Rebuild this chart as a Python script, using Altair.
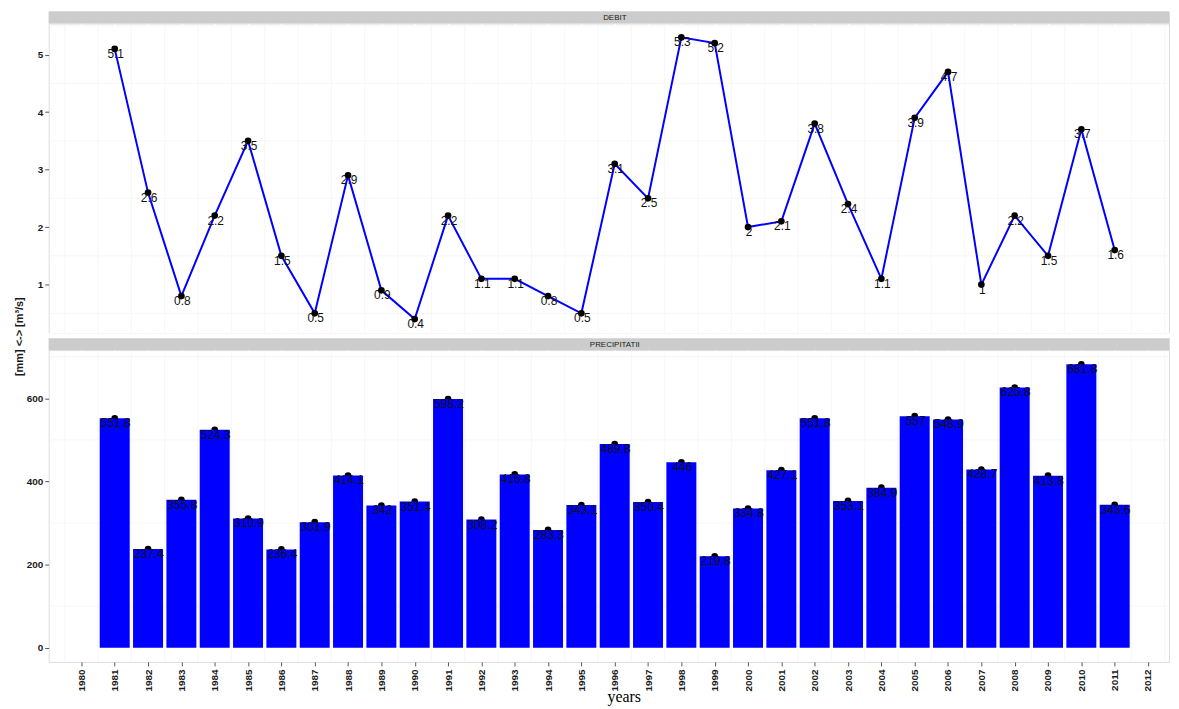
import altair as alt
import pandas as pd

years = list(range(1981, 2012))
debit = [5.1, 2.6, 0.8, 2.2, 3.5, 1.5, 0.5, 2.9, 0.9, 0.4, 2.2, 1.1, 1.1, 0.8, 0.5,
         3.1, 2.5, 5.3, 5.2, 2.0, 2.1, 3.8, 2.4, 1.1, 3.9, 4.7, 1.0, 2.2, 1.5, 3.7, 1.6]
precip = [551.8, 237.4, 355.8, 524.3, 310.9, 236.4, 301.9, 414.1, 342, 351.4, 598.2,
          308.2, 416.8, 283.3, 343.1, 489.8, 350.4, 446, 219.8, 334.8, 427.1, 551.8,
          353.1, 384.9, 557, 548.9, 428.7, 625.8, 413.8, 681.8, 343.6]
x_ticks = list(range(1980, 2013))
x_minor = [y + 0.5 for y in range(1979, 2013)]
debit_ticks = [1, 2, 3, 4, 5]
debit_minor = [0.5, 1.5, 2.5, 3.5, 4.5, 5.5]
precip_ticks = [0, 200, 400, 600]
precip_minor = [100, 300, 500, 700]

W = 1128
H_TOP = 312
H_BOT = 314
STRIP_H = 12
GAP = 5
FONT = "Liberation Sans"
BAR_HALF = 0.45

def fmt(v):
    return f"{v:g}"

df_top = pd.DataFrame({"year": years, "value": debit, "label": [fmt(v) for v in debit]})
df_bot = pd.DataFrame({"year": years, "value": precip, "label": [fmt(v) for v in precip],
                       "x0": [y - BAR_HALF for y in years], "x1": [y + BAR_HALF for y in years]})

xscale = alt.Scale(domain=[1979.02, 2012.63], nice=False, zero=False)

def x_axis(show):
    if show:
        return alt.Axis(values=x_ticks, grid=True, gridColor="white", gridWidth=1.2,
                        labelAngle=270, labelFont=FONT, labelFontWeight="bold", labelFontSize=10,
                        labelColor="#1A1A1A", labelPadding=3, tickColor="#555555", tickSize=4,
                        domain=False, title="years", titleFont="Liberation Serif",
                        titleFontSize=16, titleFontWeight="normal", titleColor="black",
                        titleX=579, titleY=40, titleBaseline="alphabetic", format="d")
    return alt.Axis(values=x_ticks, grid=True, gridColor="white", gridWidth=1.2,
                    labels=False, ticks=False, domain=False, title=None)

def y_axis(values, title=None):
    kw = dict(values=values, grid=True, gridColor="white", gridWidth=1.2,
              labelFont=FONT, labelFontWeight="bold", labelFontSize=10, labelColor="#1A1A1A",
              labelPadding=2, tickColor="#555555", tickSize=4, domain=False)
    if title:
        kw.update(title=title, titleFont=FONT, titleFontSize=11, titleFontWeight="bold",
                  titleColor="#1A1A1A", titleAngle=270, titleY=-14, titlePadding=2)
    else:
        kw.update(title=None)
    return alt.Axis(**kw)


def strip(label, gap=0):
    d = pd.DataFrame({"label": [label]})
    layers = []
    if gap:
        layers.append(alt.Chart(d).mark_rect(color="white").encode(
            x=alt.value(-1), x2=alt.value(W + 1), y=alt.value(0), y2=alt.value(gap)))
    layers.append(alt.Chart(d).mark_rect(color="#CCCCCC").encode(
        x=alt.value(0), x2=alt.value(W), y=alt.value(gap), y2=alt.value(gap + STRIP_H)))
    layers.append(alt.Chart(d).mark_text(font=FONT, fontSize=8, color="#1A1A1A", baseline="middle").encode(
        text="label:N", x=alt.value(570), y=alt.value(gap + STRIP_H / 2 + 0.5)))
    return alt.layer(*layers).properties(width=W, height=STRIP_H + gap)


def panel(df, yvals, yminor, ydomain, show_x, height, title=None, bars=False):
    yscale = alt.Scale(domain=ydomain, nice=False, zero=False)
    xa = x_axis(show_x)
    ya = y_axis(yvals, title)
    vmin = alt.Chart(pd.DataFrame({"pos": x_minor})).mark_rule(color="#F2F2F2", strokeWidth=0.6).encode(
        x=alt.X("pos:Q", scale=xscale, axis=xa))
    hmin = alt.Chart(pd.DataFrame({"pos": yminor})).mark_rule(color="#F2F2F2", strokeWidth=0.6).encode(
        y=alt.Y("pos:Q", scale=yscale, axis=ya))
    base = alt.Chart(df)
    xe = alt.X("year:Q", scale=xscale, axis=xa)
    ye = alt.Y("value:Q", scale=yscale, axis=ya)
    pts = base.mark_circle(color="black", opacity=1, size=45).encode(x=xe, y=ye)
    txt = base.mark_text(font=FONT, fontSize=12, color="#111111", dx=1, dy=5, baseline="middle").encode(
        x=xe, y=ye, text="label:N")
    if bars:
        br = base.mark_rect(color="#0000FF").encode(
            x=alt.X("x0:Q", scale=xscale, axis=xa), x2="x1:Q", y=ye, y2=alt.datum(0))
        layers = [vmin, hmin, pts, br, txt]
    else:
        ln = base.mark_line(color="#0000FF", strokeWidth=2).encode(x=xe, y=ye)
        layers = [vmin, hmin, ln, pts, txt]
    return alt.layer(*layers).properties(width=W, height=height)


top = panel(df_top, debit_ticks, debit_minor, [0.155, 5.545], False, H_TOP)
bot = panel(df_bot, precip_ticks, precip_minor, [-34.09, 715.9], True, H_BOT,
            title="[mm] <-> [m³/s]", bars=True)

chart = alt.vconcat(
    strip("DEBIT"), top, strip("PRECIPITATII", gap=GAP), bot,
    spacing=0, bounds="flush",
).properties(
    padding={"left": 4, "top": 0, "right": 0, "bottom": 0}
).configure_view(fill="#E5E5E5", stroke=None).configure(background="white")

chart.save("out.html", embed_options={"renderer": "svg", "actions": False})
